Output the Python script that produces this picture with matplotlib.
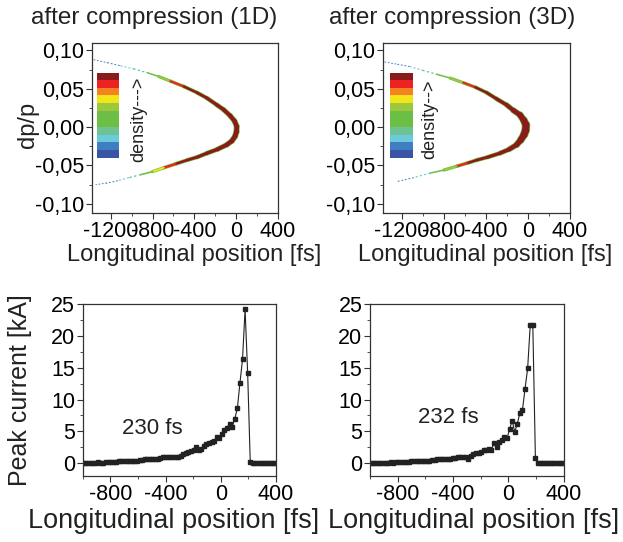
import numpy as np
import matplotlib
matplotlib.use("Agg")
import matplotlib.pyplot as plt
from matplotlib.collections import LineCollection
from matplotlib.colors import ListedColormap
from matplotlib.ticker import MultipleLocator, FuncFormatter

plt.rcParams['font.family'] = ['Liberation Sans', 'DejaVu Sans']
plt.rcParams['axes.unicode_minus'] = False
plt.rcParams['text.color'] = '#222222'

# density scale, low -> high
density_colors = ['#3A53A4', '#3F7EC1', '#6BCBDB', '#6DC394', '#6CBE45', '#6CBE45',
                  '#9BC83C', '#F2E61A', '#F58220', '#EE2222', '#8B1A1A']

# phase space (1D): centre line of the bunch, density level, core width [pt]
ps1_t = [-1361, -1230, -1104, -980, -850, -740, -629, -500, -374, -280, -184, -121, -57, -15,
         6, 4, -10, -40, -89, -180, -279, -370, -469, -580, -692, -800, -914, -1030, -1136, -1240, -1342]
ps1_dp = [0.088, 0.084, 0.080, 0.076, 0.071, 0.066, 0.060, 0.053, 0.045, 0.038, 0.029, 0.023, 0.015, 0.008,
          0.001, -0.006, -0.012, -0.018, -0.023, -0.029, -0.034, -0.039, -0.043, -0.048, -0.053, -0.058,
          -0.062, -0.066, -0.070, -0.073, -0.075]
ps1_level = [1, 1, 2, 3, 4, 6, 9, 10, 10, 10, 10, 10, 10, 10,
             10, 10, 10, 10, 10, 10, 10, 10, 10, 10, 9, 7, 4, 3, 2, 1, 1]
ps1_width = [0.7, 0.7, 0.8, 0.9, 1.0, 1.2, 1.4, 1.6, 1.9, 2.1, 2.4, 2.6, 2.9, 3.1,
             3.3, 3.4, 3.4, 3.2, 3.0, 2.6, 2.3, 2.1, 1.9, 1.7, 1.5, 1.3, 1.1, 0.9, 0.8, 0.7, 0.7]

# phase space (3D)
ps3_t = [-1362, -1240, -1124, -1000, -869, -740, -616, -500, -393, -300, -203, -140, -76, -40,
         -19, -22, -38, -70, -108, -180, -267, -380, -488, -580, -679, -800, -933, -1090, -1250]
ps3_dp = [0.085, 0.082, 0.079, 0.074, 0.069, 0.064, 0.058, 0.052, 0.045, 0.037, 0.029, 0.022, 0.016, 0.009,
          0.003, -0.004, -0.010, -0.017, -0.023, -0.029, -0.034, -0.039, -0.043, -0.047, -0.051, -0.056,
          -0.060, -0.066, -0.071]
ps3_level = [1, 1, 2, 3, 4, 6, 9, 10, 10, 10, 10, 10, 10, 10,
             10, 10, 10, 10, 10, 10, 10, 10, 10, 10, 9, 6, 4, 2, 1]
ps3_width = [0.7, 0.7, 0.8, 0.9, 1.0, 1.2, 1.4, 1.6, 1.9, 2.2, 2.6, 3.1, 3.8, 4.5,
             5.0, 5.2, 4.9, 4.2, 3.5, 2.8, 2.4, 2.1, 1.9, 1.7, 1.5, 1.2, 1.0, 0.8, 0.7]

# current profiles [kA], bins from -1000 to 400 fs
t_bins = np.linspace(-1000, 400, 76)
current_1d = [0.1, 0.1, 0.1, 0.1, 0.1, 0.1, 0.2, 0.1, 0.1, 0.2,
              0.2, 0.2, 0.2, 0.2, 0.3, 0.3, 0.3, 0.3, 0.3, 0.4,
              0.4, 0.4, 0.5, 0.5, 0.6, 0.6, 0.6, 0.7, 0.7, 0.7,
              0.8, 1.0, 0.9, 1.0, 1.0, 0.9, 1.0, 1.0, 1.2, 1.5,
              1.6, 1.7, 1.9, 2.1, 2.5, 2.1, 2.3, 2.7, 3.0, 3.1,
              3.3, 3.5, 4.1, 3.9, 4.6, 5.2, 5.6, 6.2, 5.7, 7.0,
              8.6, 12.6, 16.3, 24.2, 14.1, 0.2, 0, 0, 0, 0,
              0, 0, 0, 0, 0, 0]
current_3d = [0.1, 0.1, 0.1, 0.1, 0.1, 0.1, 0.1, 0.1, 0.2, 0.1,
              0.2, 0.2, 0.2, 0.2, 0.2, 0.2, 0.3, 0.3, 0.3, 0.3,
              0.3, 0.4, 0.4, 0.4, 0.5, 0.5, 0.6, 0.6, 0.6, 0.6,
              0.7, 0.7, 0.8, 0.8, 0.9, 1.0, 1.0, 0.9, 0.7, 1.2,
              1.5, 1.6, 1.6, 1.8, 2.0, 2.0, 2.3, 2.1, 3.2, 2.6,
              3.4, 3.7, 4.1, 3.9, 5.3, 6.7, 4.9, 6.2, 7.9, 8.4,
              11.7, 14.9, 21.7, 21.7, 0.8, 0, 0, 0, 0, 0,
              0, 0, 0, 0, 0, 0]

fig = plt.figure(figsize=(6.23, 5.42), dpi=100)

ax1 = fig.add_axes([0.148, 0.607, 0.298, 0.314])
ax2 = fig.add_axes([0.615, 0.607, 0.300, 0.314])
ax3 = fig.add_axes([0.133, 0.122, 0.310, 0.317])
ax4 = fig.add_axes([0.594, 0.122, 0.311, 0.317])


def style(ax):
    for s in ax.spines.values():
        s.set_color('#333333')
        s.set_linewidth(0.9)
    ax.tick_params(which='both', direction='out', top=False, right=False,
                   color='#333333', labelsize=15.5, pad=1)
    ax.tick_params(which='major', length=4.5)
    ax.tick_params(which='minor', length=2.5)


def draw_phase(ax, t, dp, level, width):
    pts = np.column_stack([t, dp])
    segs = np.stack([pts[:-1], pts[1:]], axis=1)
    lev = [min(a, b) for a, b in zip(level[:-1], level[1:])]
    w = [(a + b) / 2 for a, b in zip(width[:-1], width[1:])]
    # light fringe round the dense core
    fr = LineCollection(segs, colors=['#7CC04A' if l >= 6 else (0, 0, 0, 0) for l in lev],
                        linewidths=[x + 1.0 for x in w], capstyle='round', joinstyle='round')
    ax.add_collection(fr)
    core = LineCollection(segs, colors=[density_colors[l] for l in lev], linewidths=w,
                          linestyles=[(0, (1, 2.5)) if l <= 3 else 'solid' for l in lev],
                          capstyle='round', joinstyle='round')
    ax.add_collection(core)


comma = FuncFormatter(lambda v, p: f"{v:.2f}".replace('.', ','))

for ax, t, dp, lev, w, txt, bx in [(ax1, ps1_t, ps1_dp, ps1_level, ps1_width, "density--->", 0.027),
                                   (ax2, ps3_t, ps3_dp, ps3_level, ps3_width, "density-->", 0.037)]:
    draw_phase(ax, t, dp, lev, w)
    ax.set_xlim(-1378, 400)
    ax.set_ylim(-0.112, 0.11)
    ax.xaxis.set_major_locator(MultipleLocator(400))
    ax.xaxis.set_minor_locator(MultipleLocator(200))
    ax.yaxis.set_major_locator(MultipleLocator(0.05))
    ax.yaxis.set_minor_locator(MultipleLocator(0.025))
    ax.yaxis.set_major_formatter(comma)
    style(ax)
    cax = ax.inset_axes([bx, 0.324, 0.118, 0.50])
    cax.imshow(np.arange(len(density_colors))[::-1].reshape(-1, 1),
               cmap=ListedColormap(density_colors), aspect='auto', interpolation='nearest')
    cax.axis('off')
    ax.text(0.25, 0.55, txt, rotation=90, transform=ax.transAxes,
            ha='center', va='center', fontsize=13)

for ax, cur, label, lx, ly in [(ax3, current_1d, "230 fs", -494, 5.5),
                               (ax4, current_3d, "232 fs", -437, 7.1)]:
    ax.plot(t_bins, cur, color='#222222', lw=0.8, marker='s', ms=2.6,
            mfc='#222222', mec='#222222')
    ax.set_xlim(-1000, 400)
    ax.set_ylim(-2, 25)
    ax.xaxis.set_major_locator(MultipleLocator(400))
    ax.xaxis.set_minor_locator(MultipleLocator(200))
    ax.yaxis.set_major_locator(MultipleLocator(5))
    ax.yaxis.set_minor_locator(MultipleLocator(2.5))
    style(ax)
    ax.text(lx, ly, label, ha='center', va='center', fontsize=16)

fig.text(154 / 623, 1 - 18 / 542, "after compression (1D)", ha='center', va='center', fontsize=17.5)
fig.text(452 / 623, 1 - 18 / 542, "after compression (3D)", ha='center', va='center', fontsize=17.5)
fig.text(194 / 623, 1 - 255 / 542, "Longitudinal position [fs]", ha='center', va='center', fontsize=17)
fig.text(485 / 623, 1 - 255 / 542, "Longitudinal position [fs]", ha='center', va='center', fontsize=17)
fig.text(174 / 623, 1 - 521 / 542, "Longitudinal position [fs]", ha='center', va='center', fontsize=19.5)
fig.text(474 / 623, 1 - 521 / 542, "Longitudinal position [fs]", ha='center', va='center', fontsize=19.5)
fig.text(28 / 623, 1 - 125 / 542, "dp/p", rotation=90, ha='center', va='center', fontsize=17)
fig.text(20 / 623, 1 - 390 / 542, "Peak current [kA]", rotation=90, ha='center', va='center', fontsize=18)

fig.savefig("out.png", dpi=100)
